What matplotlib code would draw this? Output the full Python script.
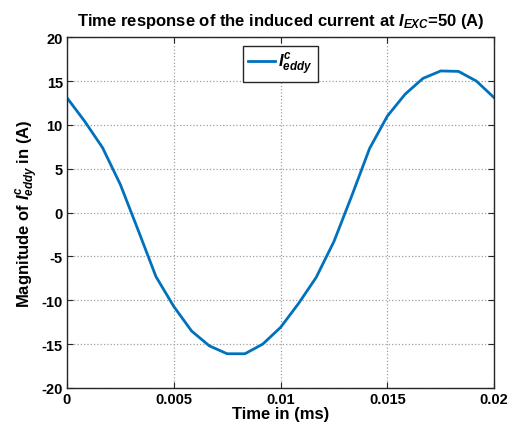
import numpy as np
import matplotlib
matplotlib.use('Agg')
import matplotlib.pyplot as plt

# time samples (s) and induced current (A)
time_s = [0.0, 0.000833, 0.001667, 0.0025, 0.003333, 0.004167, 0.005, 0.005833,
          0.006667, 0.0075, 0.008333, 0.009167, 0.01, 0.010833, 0.011667, 0.0125,
          0.013333, 0.014167, 0.015, 0.015833, 0.016667, 0.0175, 0.018333, 0.019167, 0.02]
i_eddy = [13.1, 10.4, 7.4, 3.2, -2.0, -7.3, -10.7, -13.5, -15.2, -16.1, -16.1, -15.0,
          -13.1, -10.4, -7.4, -3.3, 1.9, 7.3, 11.0, 13.5, 15.3, 16.15, 16.1, 15.0, 13.1]

x_ticks = [0, 0.005, 0.01, 0.015, 0.02]
x_ticklabels = ['0', '0.005', '0.01', '0.015', '0.02']
y_ticks = [-20, -15, -10, -5, 0, 5, 10, 15, 20]

plt.rcParams['font.family'] = ['Liberation Sans', 'DejaVu Sans']
plt.rcParams['font.weight'] = 'bold'
plt.rcParams['axes.unicode_minus'] = False
plt.rcParams['mathtext.fontset'] = 'custom'
plt.rcParams['mathtext.rm'] = 'Liberation Sans:bold'
plt.rcParams['mathtext.it'] = 'Liberation Sans:italic:bold'
plt.rcParams['mathtext.bf'] = 'Liberation Sans:bold'

def main():
    fig = plt.figure(figsize=(5.11, 4.39), dpi=100)
    ax = fig.add_axes([0.131, 0.114, 0.836, 0.799])
    ax.plot(time_s, i_eddy, color='#0072BD', lw=2, label='$I^{c}_{eddy}$')
    ax.set_xlim(0, 0.02)
    ax.set_ylim(-20, 20)
    ax.set_xticks(x_ticks)
    ax.set_xticklabels(x_ticklabels)
    ax.set_yticks(y_ticks)
    ax.tick_params(direction='in', top=True, right=True, labelsize=10.5,
                   colors='#262626', length=4, width=0.8, pad=3)
    for lab in ax.get_xticklabels() + ax.get_yticklabels():
        lab.set_color('black')
        lab.set_fontweight('bold')
    for s in ax.spines.values():
        s.set_color('#262626')
        s.set_linewidth(1.0)
    ax.grid(True, linestyle=':', color='#a0a0a0', lw=0.9)
    ax.set_xlabel('Time in (ms)', fontsize=12, fontweight='bold', labelpad=0)
    ax.set_ylabel('Magnitude of $I^{c}_{eddy}$ in (A)', fontsize=12, fontweight='bold', labelpad=0)
    ax.set_title('Time response of the induced current at $I_{EXC}$=50 (A)',
                 fontsize=12, fontweight='bold', pad=9)
    leg = ax.legend(loc='upper center', fontsize=12, fancybox=False, framealpha=1,
                    edgecolor='#262626', handlelength=1.6, handletextpad=0.2,
                    borderpad=0.3, borderaxespad=0.5)
    leg.get_frame().set_linewidth(1.0)
    fig.savefig('out.png', dpi=100)
    plt.close(fig)

if __name__ == '__main__':
    main()
